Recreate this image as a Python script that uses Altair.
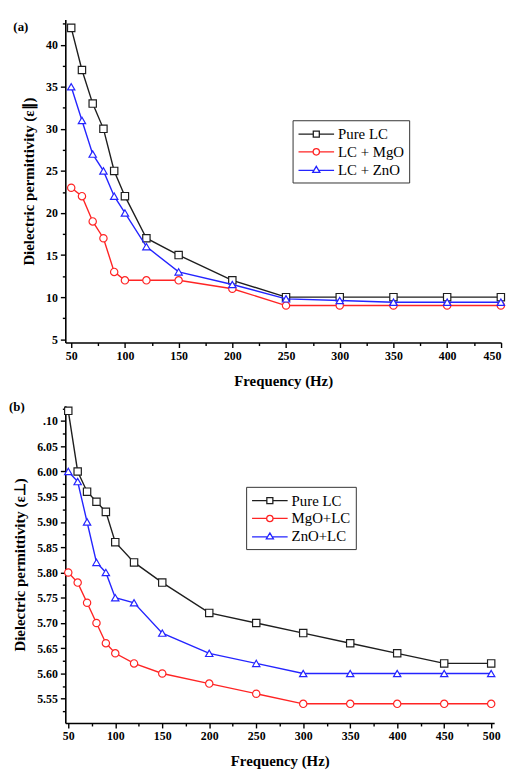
import altair as alt
import pandas as pd

# ---------------- data ----------------
freq_a = [50, 60, 70, 80, 90, 100, 120, 150, 200, 250, 300, 350, 400, 450]
pure_a = [42, 37, 33, 30, 25, 22, 17, 15, 12, 10, 10, 10, 10, 10]
mgo_a = [23, 22, 19, 17, 13, 12, 12, 12, 11, 9, 9, 9, 9, 9]
zno_a = [35, 31, 27, 25, 22, 20, 16, 13, 11.5, 9.8, 9.6, 9.4, 9.4, 9.4]
names_a = ["Pure LC", "LC + MgO", "LC + ZnO"]

freq_b = [50, 60, 70, 80, 90, 100, 120, 150, 200, 250, 300, 350, 400, 450, 500]
pure_b = [6.12, 6.00, 5.96, 5.94, 5.92, 5.86, 5.82, 5.78, 5.72, 5.70, 5.68, 5.66, 5.64, 5.62, 5.62]
mgo_b = [5.80, 5.78, 5.74, 5.70, 5.66, 5.64, 5.62, 5.60, 5.58, 5.56, 5.54, 5.54, 5.54, 5.54, 5.54]
zno_b = [6.00, 5.98, 5.90, 5.82, 5.80, 5.75, 5.74, 5.68, 5.64, 5.62, 5.60, 5.60, 5.60, 5.60, 5.60]
names_b = ["Pure LC", "MgO+LC", "ZnO+LC"]

xticks_a = [50, 100, 150, 200, 250, 300, 350, 400, 450]
xminor_a = [75, 125, 175, 225, 275, 325, 375, 425]
yticks_a = [5, 10, 15, 20, 25, 30, 35, 40]
yminor_a = [7.5, 12.5, 17.5, 22.5, 27.5, 32.5, 37.5, 42.5]

xticks_b = [50, 100, 150, 200, 250, 300, 350, 400, 450, 500]
xminor_b = [75, 125, 175, 225, 275, 325, 375, 425, 475]
yticks_b = [5.55, 5.60, 5.65, 5.70, 5.75, 5.80, 5.85, 5.90, 5.95, 6.00, 6.05, 6.10]
yminor_b = [5.525, 5.575, 5.625, 5.675, 5.725, 5.775, 5.825, 5.875, 5.925, 5.975, 6.025, 6.075, 6.125]

colors = ["#1e1e1e", "#ff2424", "#2424ff"]
shapes = ["square", "circle", "triangle-up"]
# legend symbols: short line with marker in the middle (unit = 8 px)
legend_paths = [
    "M-2.25,0H-0.38M0.38,0H2.25M-0.38,-0.38H0.38V0.38H-0.38Z",
    "M-2.25,0H-0.4M0.4,0H2.25M-0.4,0A0.4,0.4 0 1,0 0.4,0A0.4,0.4 0 1,0 -0.4,0Z",
    "M-2.25,0.08H-0.24M0.24,0.08H2.25M0,-0.42L0.45,0.34H-0.45Z",
]

FONT = "Liberation Serif"


def panel(freq, series, names, xdom, ydom, w, h, xmaj, xmin, ymaj, ymin,
          ytitle, tag, tagx, tagy, legx, legy, ylabel_expr):
    rows = []
    for name, vals in zip(names, series):
        for f, v in zip(freq, vals):
            rows.append({"f": f, "v": v, "s": name})
    df = pd.DataFrame(rows)

    xs = alt.Scale(domain=xdom, nice=False, zero=False)
    ys = alt.Scale(domain=ydom, nice=False, zero=False)

    common_axis = dict(grid=False, domainColor="black", domainWidth=1.6,
                       tickColor="black", tickWidth=1.4, labelFont=FONT,
                       labelFontWeight="bold", labelFontSize=12, labelColor="black",
                       titleFont=FONT, titleFontWeight="bold", titleFontSize=15,
                       titleColor="black")
    x_main = alt.Axis(values=xmaj, orient="bottom", title="Frequency (Hz)",
                      tickSize=5, labelPadding=3, titlePadding=12, format="d",
                      **common_axis)
    y_main = alt.Axis(values=ymaj, orient="left", title=ytitle, tickSize=5,
                      labelPadding=3, titlePadding=9, labelExpr=ylabel_expr,
                      **common_axis)
    x_minor = alt.Axis(values=xmin, orient="bottom", title=None, labels=False,
                       domain=False, tickSize=3, tickColor="black", tickWidth=1.4,
                       grid=False)
    y_minor = alt.Axis(values=ymin, orient="left", title=None, labels=False,
                       domain=False, tickSize=3, tickColor="black", tickWidth=1.4,
                       grid=False)

    series_layers = []
    for name, col, shp in zip(names, colors, shapes):
        series_layers.append(
            alt.Chart(df)
            .transform_filter(alt.datum.s == name)
            .mark_line(color=col, strokeWidth=1.4,
                       point=alt.OverlayMarkDef(shape=shp, filled=True, fill="white",
                                                stroke=col, strokeWidth=1.2, size=55))
            .encode(x=alt.X("f:Q", scale=xs, axis=x_main),
                    y=alt.Y("v:Q", scale=ys, axis=y_main))
        )
    data_layer = alt.layer(*series_layers)

    minor_layer = alt.Chart(df).mark_point(opacity=0).encode(
        x=alt.X("f:Q", scale=xs, axis=x_minor),
        y=alt.Y("v:Q", scale=ys, axis=y_minor),
    )

    leg = alt.Legend(title=None, orient="none", legendX=legx, legendY=legy,
                     strokeColor="#333", fillColor="white", padding=5,
                     labelFont=FONT, labelFontSize=15, labelColor="black",
                     symbolSize=256, symbolStrokeWidth=1.3, symbolOpacity=1,
                     symbolFillColor="white", symbolOffset=10, labelOffset=13,
                     rowPadding=1)
    legdf = pd.DataFrame({"s": names})
    legend_layer = alt.Chart(legdf).mark_point(opacity=0).encode(
        color=alt.Color("s:N", scale=alt.Scale(domain=names, range=colors), legend=leg),
        shape=alt.Shape("s:N", scale=alt.Scale(domain=names, range=legend_paths), legend=leg),
    )

    tag_layer = alt.Chart(pd.DataFrame({"t": [tag]})).mark_text(
        font=FONT, fontWeight="bold", fontSize=13, color="black"
    ).encode(text="t:N", x=alt.value(tagx), y=alt.value(tagy))

    return (
        alt.layer(data_layer, minor_layer, legend_layer, tag_layer)
        .resolve_axis(x="independent", y="independent")
        .properties(width=w, height=h)
    )


chart_a = panel(freq_a, [pure_a, mgo_a, zno_a], names_a, [44.5, 450.2], [4.6, 43],
                441, 327, xticks_a, xminor_a, yticks_a, yminor_a,
                "Dielectric permittivity (ε∥)", "(a)", -45, 8, 230, 102,
                "format(datum.value, 'd')")
chart_b = panel(freq_b, [pure_b, mgo_b, zno_b], names_b, [46.85, 503.15], [5.502, 6.13],
                434, 321, xticks_b, xminor_b, yticks_b, yminor_b,
                "Dielectric permittivity (ε⊥)", "(b)", -49, 1, 183, 82,
                "datum.value > 6.09 ? '.10' : format(datum.value, '.2f')")

chart = (
    alt.vconcat(chart_a, chart_b, spacing=13)
    .resolve_scale(color="independent", shape="independent")
    .properties(padding={"left": 1, "top": 7, "right": 0, "bottom": 0})
    .configure_view(stroke=None)
)

chart.save("out.html", embed_options={"renderer": "svg", "actions": False})
